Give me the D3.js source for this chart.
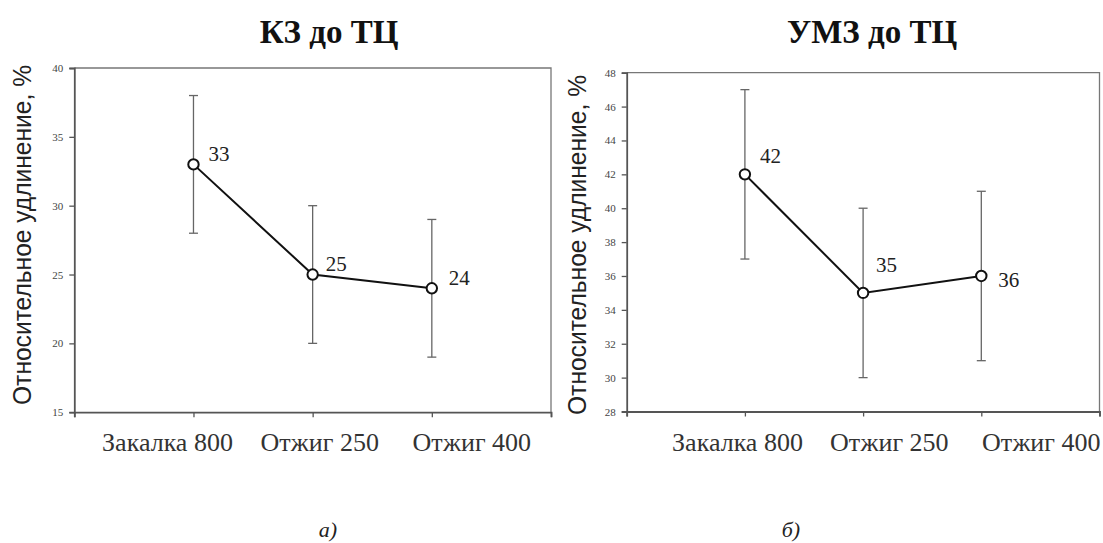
<!DOCTYPE html>
<html>
<head>
<meta charset="utf-8">
<script src="https://cdn.jsdelivr.net/npm/d3@7"></script>
<style>
  html, body { margin: 0; padding: 0; background: #fff; }
  svg { display: block; }
  .serif { font-family: "Liberation Serif", "DejaVu Serif", "Times New Roman", serif; }
  .sans { font-family: "Liberation Sans", Arial, "DejaVu Sans", sans-serif; }
</style>
</head>
<body>
<svg id="chart" width="1103" height="543"></svg>
<script>
// ---- data ----
const categories = ["Закалка 800", "Отжиг 250", "Отжиг 400"];
const yAxisTitle = "Относительное удлинение, %";

const titleA = "КЗ до ТЦ";
const valuesA = [33, 25, 24];
const errorsA = [5, 5, 5];
const yTicksA = [15, 20, 25, 30, 35, 40];
const captionA = "а)";

const titleB = "УМЗ до ТЦ";
const valuesB = [42, 35, 36];
const errorsB = [5, 5, 5];
const yTicksB = [28, 30, 32, 34, 36, 38, 40, 42, 44, 46, 48];
const captionB = "б)";

// ---- layout ----
const panels = [
  { title: titleA, values: valuesA, errors: errorsA, ticks: yTicksA, caption: captionA,
    box: { l: 74.3, r: 551, t: 68, b: 412.2 },
    titleX: 329, captionX: 328, ylabX: 23, ylabY: 235,
    catLabelRange: [167.5, 471.8],
    labelOff: [[15, -3], [13, -4], [17, -3]] },
  { title: titleB, values: valuesB, errors: errorsB, ticks: yTicksB, caption: captionB,
    box: { l: 626.7, r: 1099.5, t: 72.7, b: 411.5 },
    titleX: 872, captionX: 791, ylabX: 578, ylabY: 245,
    catLabelRange: [737.5, 1041.2],
    labelOff: [[15, -11], [13, -21], [17, 11]] }
];

const svg = d3.select("#chart");

panels.forEach(p => {
  const g = svg.append("g");
  const b = p.box;
  const n = categories.length;
  const x = d3.scaleLinear().domain([0, n + 1]).range([b.l, b.r]);
  const y = d3.scaleLinear().domain([p.ticks[0], p.ticks[p.ticks.length - 1]]).range([b.b, b.t]);

  // title
  g.append("text").attr("class", "serif").attr("x", p.titleX).attr("y", 42.5)
    .attr("text-anchor", "middle")
    .attr("font-weight", "bold").attr("font-size", 33).attr("fill", "#111")
    .text(p.title);

  // plot frame: top and right
  g.append("path")
    .attr("d", `M${b.l},${b.t}H${b.r}V${b.b}`)
    .attr("fill", "none").attr("stroke", "#777").attr("stroke-width", 1.3);

  // y axis
  const yAxis = d3.axisLeft(y).tickValues(p.ticks).tickSize(5).tickPadding(6).tickFormat(d3.format("d"));
  const ya = g.append("g").attr("transform", `translate(${b.l},0)`).call(yAxis);
  ya.attr("font-family", null);
  ya.select(".domain").attr("stroke", "#555").attr("stroke-width", 1.8);
  ya.selectAll(".tick line").attr("stroke", "#555").attr("stroke-width", 1.3);
  ya.selectAll(".tick text").attr("class", "serif").attr("font-size", 11).attr("fill", "#444");

  // x axis
  const xAxis = d3.axisBottom(x).tickValues(d3.range(0, n + 2)).tickSize(5).tickFormat("");
  const xa = g.append("g").attr("transform", `translate(0,${b.b})`).call(xAxis);
  xa.select(".domain").attr("stroke", "#555").attr("stroke-width", 1.8);
  xa.selectAll(".tick line").attr("stroke", "#555").attr("stroke-width", 1.3);

  // category labels
  const xl = d3.scalePoint().domain(categories).range(p.catLabelRange);
  g.selectAll(".cat").data(categories).enter().append("text")
    .attr("class", "serif")
    .attr("x", d => xl(d)).attr("y", 450.5)
    .attr("text-anchor", "middle")
    .attr("font-size", 26).attr("fill", "#333")
    .text(d => d);

  // y axis title
  g.append("text").attr("class", "sans")
    .attr("transform", `translate(${p.ylabX + 8},${p.ylabY}) rotate(-90)`)
    .attr("text-anchor", "middle")
    .attr("font-size", 25).attr("fill", "#222")
    .attr("textLength", 340).attr("lengthAdjust", "spacingAndGlyphs")
    .text(yAxisTitle);

  // error bars
  const eb = g.selectAll(".eb").data(p.values).enter().append("g");
  eb.append("line")
    .attr("x1", (d, i) => x(i + 1)).attr("x2", (d, i) => x(i + 1))
    .attr("y1", (d, i) => y(d - p.errors[i])).attr("y2", (d, i) => y(d + p.errors[i]))
    .attr("stroke", "#666").attr("stroke-width", 1.3);
  [-1, 1].forEach(s => {
    eb.append("line")
      .attr("x1", (d, i) => x(i + 1) - 4.5).attr("x2", (d, i) => x(i + 1) + 4.5)
      .attr("y1", (d, i) => y(d + s * p.errors[i])).attr("y2", (d, i) => y(d + s * p.errors[i]))
      .attr("stroke", "#666").attr("stroke-width", 1.3);
  });

  // line
  const line = d3.line().x((d, i) => x(i + 1)).y(d => y(d));
  g.append("path").datum(p.values).attr("d", line)
    .attr("fill", "none").attr("stroke", "#111").attr("stroke-width", 2);

  // markers
  g.selectAll(".pt").data(p.values).enter().append("circle")
    .attr("cx", (d, i) => x(i + 1)).attr("cy", d => y(d)).attr("r", 5.2)
    .attr("fill", "#fff").attr("stroke", "#111").attr("stroke-width", 2);

  // value labels
  g.selectAll(".vl").data(p.values).enter().append("text")
    .attr("class", "serif")
    .attr("x", (d, i) => x(i + 1) + p.labelOff[i][0])
    .attr("y", (d, i) => y(d) + p.labelOff[i][1])
    .attr("font-size", 21).attr("fill", "#222")
    .text(d => d);

  // caption
  g.append("text").attr("class", "serif").attr("x", p.captionX).attr("y", 537)
    .attr("text-anchor", "middle")
    .attr("font-style", "italic").attr("font-size", 22).attr("fill", "#222")
    .text(p.caption);
});
</script>
</body>
</html>
